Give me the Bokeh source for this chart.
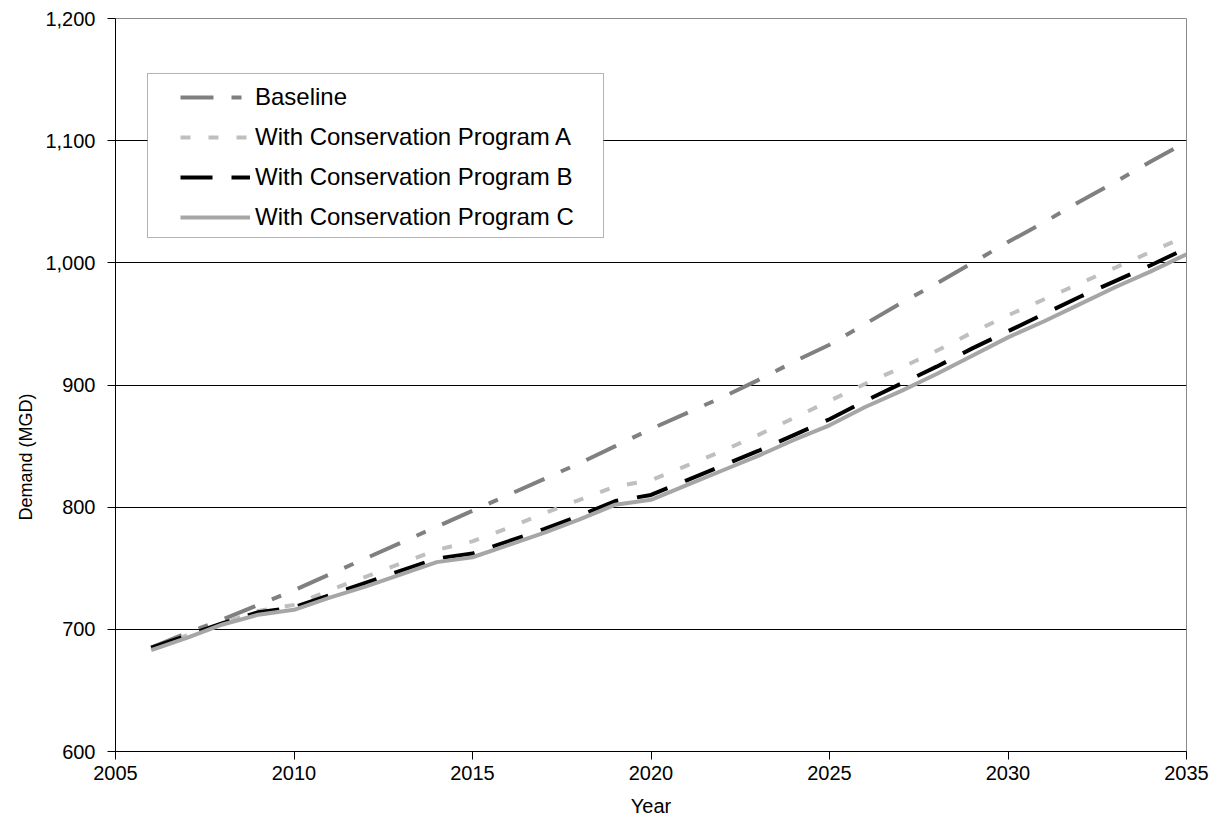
from bokeh.plotting import figure
from bokeh.models import (Range1d, FixedTicker, NumeralTickFormatter, Legend, LegendItem,
                          BoxAnnotation, Title)
from bokeh.embed import file_html
from bokeh.resources import INLINE

years = list(range(2006, 2036))
baseline = [685, 697, 708, 720, 732, 745, 758, 771, 784, 797,
            810, 823, 836, 850, 864, 877, 890, 904, 919, 933,
            950, 967, 983, 1000, 1017, 1033, 1050, 1066, 1083, 1099]
prog_a = [685, 695, 705, 715, 720, 732, 743, 754, 765, 772,
          783, 795, 806, 817, 822, 834, 846, 859, 873, 887,
          901, 914, 928, 943, 957, 970, 983, 996, 1009, 1022]
prog_b = [685, 695, 705, 714, 718, 728, 738, 748, 758, 762,
          772, 782, 793, 805, 810, 822, 834, 846, 859, 872,
          887, 901, 915, 930, 944, 958, 972, 985, 998, 1012]
prog_c = [683, 693, 704, 712, 716, 726, 735, 745, 755, 759,
          769, 779, 790, 802, 806, 818, 830, 842, 855, 867,
          882, 895, 909, 924, 939, 952, 966, 980, 993, 1007]
series_names = ["Baseline", "With Conservation Program A",
                "With Conservation Program B", "With Conservation Program C"]
x_ticks = [2005, 2010, 2015, 2020, 2025, 2030, 2035]
y_ticks = [600, 700, 800, 900, 1000, 1100, 1200]
x_title = "Year"
y_title = "Demand (MGD)"

FONT = "Liberation Sans"

p = figure(width=1224, height=829, output_backend="svg", toolbar_location=None,
           x_range=Range1d(2005, 2035), y_range=Range1d(600, 1200),
           min_border_left=115, min_border_right=38, min_border_top=18,
           min_border_bottom=78)
p.background_fill_color = "white"
p.border_fill_color = "white"
p.outline_line_color = "#8c8c8c"
p.outline_line_width = 1

p.xaxis.ticker = FixedTicker(ticks=x_ticks)
p.yaxis.ticker = FixedTicker(ticks=y_ticks)
p.yaxis.formatter = NumeralTickFormatter(format="0,0")
p.xgrid.visible = False
p.ygrid.ticker = FixedTicker(ticks=y_ticks[1:-1])
p.ygrid.grid_line_color = "black"
p.ygrid.grid_line_width = 1

for ax in (p.xaxis, p.yaxis):
    ax.axis_line_color = "black"
    ax.axis_line_width = 1
    ax.major_tick_line_color = "black"
    ax.major_tick_out = 8
    ax.major_tick_in = 0
    ax.minor_tick_line_color = None
    ax.major_label_text_font = FONT
    ax.major_label_text_font_size = "20px"
    ax.major_label_text_color = "black"
    ax.axis_label_text_font = FONT
    ax.axis_label_text_font_size = "20px"
    ax.axis_label_text_font_style = "normal"
    ax.axis_label_text_color = "black"

p.xaxis.axis_label = x_title
p.xaxis.major_label_standoff = 6
p.xaxis.axis_label_standoff = 12
p.yaxis.major_label_standoff = 12

# y-axis title, placed lower than centre as in the original chart
p.add_layout(Title(text=y_title, align="left", offset=231, standoff=13,
                   text_font=FONT, text_font_size="18px", text_font_style="normal",
                   text_color="black"), "left")

r_base = p.line(years, baseline, line_color="#808080", line_width=4, line_dash="33 18 10 18")
r_a = p.line(years, prog_a, line_color="#bfbfbf", line_width=4, line_dash="10 18")
r_b = p.line(years, prog_b, line_color="black", line_width=4, line_dash="32 19")
r_c = p.line(years, prog_c, line_color="#a6a6a6", line_width=4)

box = BoxAnnotation(left=2005.896, right=2018.67, top=1155.0, bottom=1020.7,
                    fill_color="white", fill_alpha=1.0, line_color="black", line_width=1)
p.add_layout(box)

legend = Legend(items=[LegendItem(label=n, renderers=[r]) for n, r in
                       zip(series_names, [r_base, r_a, r_b, r_c])],
                location=(65, 520), padding=0, spacing=12, glyph_width=70,
                glyph_height=20, label_height=20, label_standoff=5,
                border_line_color=None, background_fill_alpha=0,
                label_text_font=FONT, label_text_font_size="24px",
                label_text_color="black")
p.add_layout(legend)

open("out.html", "w").write(file_html(p, INLINE))
